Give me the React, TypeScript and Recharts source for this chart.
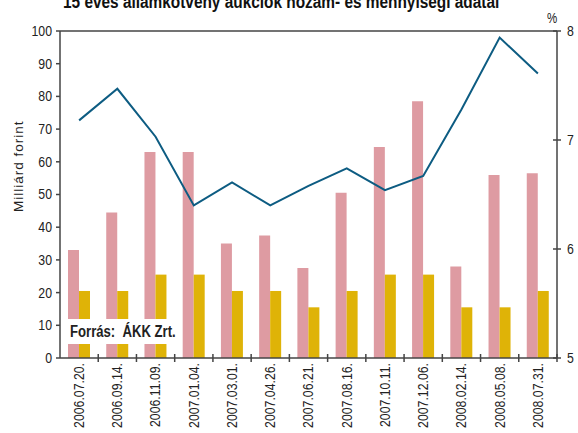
import React from "react";
import {
  Bar,
  ComposedChart,
  Line,
  ReferenceLine,
  XAxis,
  YAxis,
} from "recharts";

const dates = [
  "2006.07.20.",
  "2006.09.14.",
  "2006.11.09.",
  "2007.01.04.",
  "2007.03.01.",
  "2007.04.26.",
  "2007.06.21.",
  "2007.08.16.",
  "2007.10.11.",
  "2007.12.06.",
  "2008.02.14.",
  "2008.05.08.",
  "2008.07.31.",
];
const offered = [33, 44.5, 63, 63, 35, 37.5, 27.5, 50.5, 64.5, 78.5, 28, 56, 56.5];
const accepted = [20.5, 20.5, 25.5, 25.5, 20.5, 20.5, 15.5, 20.5, 25.5, 25.5, 15.5, 15.5, 20.5];
const yields = [7.18, 7.47, 7.03, 6.4, 6.61, 6.4, 6.58, 6.74, 6.54, 6.67, 7.28, 7.94, 7.61];
const leftTicks = [0, 10, 20, 30, 40, 50, 60, 70, 80, 90, 100];
const rightTicks = [5, 6, 7, 8];

const data = dates.map((d, i) => ({
  date: d,
  offered: offered[i],
  accepted: accepted[i],
  yield: yields[i],
}));

const W = 578;
const H = 433;
// Arial Narrow look: Liberation Sans squeezed horizontally
const FONT = "'Liberation Sans', Arial, sans-serif";
const NARROW = 0.82;
const AXIS = "#444444";
const INK = "#222222";
const PLOT_W = 557 - 60;
const BAND = PLOT_W / dates.length;

function DateTick(props: any) {
  const { x, y, payload } = props;
  return (
    <g>
      <line x1={x + BAND / 2} x2={x + BAND / 2} y1={y - 4} y2={y + 4} stroke={AXIS} strokeWidth={1.5} />
      <g transform={`translate(${x}, ${y + 5}) rotate(-90) scale(${NARROW}, 1)`}>
        <text x={0} y={0} textAnchor="end" dominantBaseline="central" fontSize={15} fontFamily={FONT} fill={INK}>
          {payload.value}
        </text>
      </g>
    </g>
  );
}

function LeftTick(props: any) {
  const { x, y, payload } = props;
  return (
    <g transform={`translate(${x}, ${y}) scale(${NARROW}, 1)`}>
      <text x={0} y={0} textAnchor="end" dominantBaseline="central" fontSize={15} fontFamily={FONT} fill={INK}>
        {payload.value}
      </text>
    </g>
  );
}

function RightTick(props: any) {
  const { x, y, payload } = props;
  return (
    <g>
      <line x1={x - 4} x2={x + 4} y1={y} y2={y} stroke={AXIS} strokeWidth={1.5} />
      <g transform={`translate(${x + 10}, ${y}) scale(${NARROW}, 1)`}>
        <text x={0} y={0} dominantBaseline="central" fontSize={15} fontFamily={FONT} fill={INK}>
          {payload.value}
        </text>
      </g>
    </g>
  );
}

const narrowText = (extra: React.CSSProperties): React.CSSProperties => ({
  position: "absolute",
  fontFamily: FONT,
  color: INK,
  whiteSpace: "pre",
  transformOrigin: "0 0",
  ...extra,
});

export default function App() {
  return (
    <div style={{ position: "absolute", left: 0, top: 0, width: W, height: H, background: "#fff", overflow: "hidden" }}>
      <div
        style={narrowText({
          left: 63,
          top: -7,
          fontWeight: "bold",
          fontSize: 18,
          lineHeight: "18px",
          color: "#111",
          transform: "scaleX(0.855)",
        })}
      >
        15 éves államkötvény aukciók hozam- és mennyiségi adatai
      </div>
      <div style={narrowText({ left: 547, top: 10, fontSize: 14, transform: `scaleX(${NARROW})` })}>%</div>
      <div
        style={narrowText({
          left: 11,
          top: 212,
          fontSize: 13.5,
          letterSpacing: 1,
          transform: "rotate(-90deg)",
        })}
      >
        Milliárd forint
      </div>
      <ComposedChart
        width={W}
        height={H}
        data={data}
        margin={{ top: 31, right: 0, bottom: 0, left: 0 }}
        barGap={0}
      >
        <XAxis
          dataKey="date"
          interval={0}
          height={75}
          tickSize={0}
          tickMargin={0}
          tickLine={false}
          stroke={AXIS}
          strokeWidth={1.5}
          tick={<DateTick />}
        />
        <YAxis
          yAxisId="left"
          domain={[0, 100]}
          ticks={leftTicks}
          width={60}
          tickSize={4}
          tickMargin={4}
          stroke={AXIS}
          strokeWidth={1.5}
          tick={<LeftTick />}
        />
        <YAxis
          yAxisId="right"
          orientation="right"
          domain={[5, 8]}
          ticks={rightTicks}
          width={21}
          tickSize={0}
          tickMargin={0}
          tickLine={false}
          stroke={AXIS}
          strokeWidth={1.5}
          tick={<RightTick />}
        />
        <ReferenceLine yAxisId="left" y={100} stroke={AXIS} strokeWidth={1.5} />
        <Bar yAxisId="left" dataKey="offered" fill="#de9ba2" barSize={11} isAnimationActive={false} />
        <Bar yAxisId="left" dataKey="accepted" fill="#dfb307" barSize={11} isAnimationActive={false} />
        <Line
          yAxisId="right"
          type="linear"
          dataKey="yield"
          stroke="#0d5c82"
          strokeWidth={2}
          dot={false}
          isAnimationActive={false}
        />
      </ComposedChart>
      <div
        style={{
          position: "absolute",
          left: 63,
          top: 319,
          width: 116,
          height: 25,
          background: "#fff",
        }}
      />
      <div
        style={narrowText({
          left: 70,
          top: 322,
          fontWeight: "bold",
          fontSize: 16,
          lineHeight: "19px",
          transform: `scaleX(${NARROW})`,
        })}
      >
        {"Forrás:  ÁKK Zrt."}
      </div>
    </div>
  );
}
